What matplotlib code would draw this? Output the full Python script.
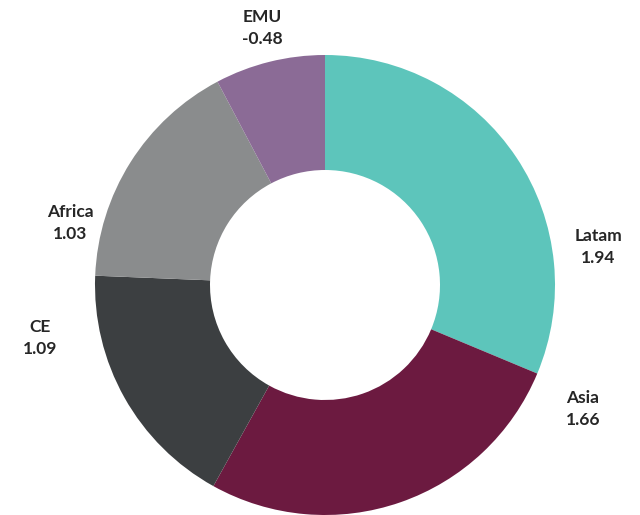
import numpy as np
import matplotlib.pyplot as plt

# data
regions = ['Latam', 'Asia', 'CE', 'Africa', 'EMU']
values = [1.94, 1.66, 1.09, 1.03, -0.48]
colors = ['#5dc5bb', '#6c1a40', '#3c3f41', '#8a8c8d', '#8b6b96']

# label centres (data units, pie radius = 1)
label_xy = [(1.187, 0.165), (1.122, -0.539), (-1.239, -0.230),
            (-1.109, 0.270), (-0.274, 1.117)]

fig = plt.figure(figsize=(6.4, 5.15), dpi=100)
ax = fig.add_axes([0, 0, 1, 1])

# wedge sizes use the magnitude of each value
ax.pie(np.abs(values), colors=colors, startangle=90, counterclock=False,
       radius=1.0, wedgeprops=dict(width=0.5, linewidth=0))

for name, val, (x, y) in zip(regions, values, label_xy):
    ax.text(x, y, f"{name}\n{val:.2f}", ha='center', va='center',
            fontsize=12.5, fontweight='bold', color='#262626',
            family='Lato', linespacing=1.45)

ax.set_aspect('equal')
ax.set_xlim(-325 / 230, (640 - 325) / 230)
ax.set_ylim(-230 / 230, 285 / 230)
ax.axis('off')

fig.savefig('out.png', dpi=100)
